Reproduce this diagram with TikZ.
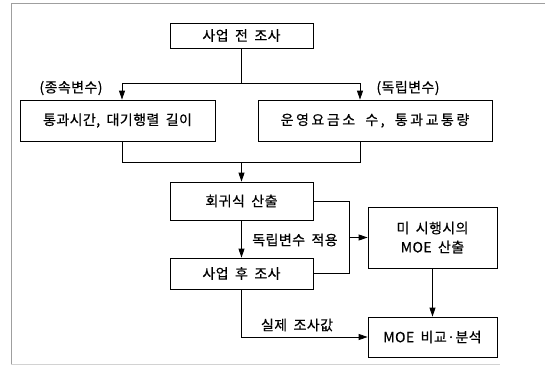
\documentclass[tikz,border=0pt]{standalone}
\usepackage{fontspec}
\newfontfamily\kr[LetterSpace=3,WordSpace=1.8,FakeBold=0.5]{Noto Sans CJK KR}
\newfontfamily\krw[LetterSpace=18,WordSpace=1.8,FakeBold=0.5]{Noto Sans CJK KR}
\usetikzlibrary{arrows.meta}
\begin{document}
\begin{tikzpicture}[x=1pt,y=-1pt,
  box/.style={draw, line width=0.8pt, inner sep=0pt, align=center,
    font=\kr\fontsize{14}{19}\selectfont},
  lbl/.style={inner sep=0pt, font=\kr\fontsize{14}{16}\selectfont},
  arr/.style={-{Triangle[length=9pt,width=6pt]}},
  ln/.style={line width=0.8pt}]
\useasboundingbox (0,0) rectangle (545,370);
% frame
\draw[gray!75, line width=0.8pt] (545,3) -- (11,3) -- (11,364);
\draw[gray!35, line width=0.8pt] (11,364) -- (500,364);
% boxes
\node[box, minimum width=143pt, minimum height=25pt] (A) at (241.5,35.5) {사업 전 조사};
\node[box, minimum width=195pt, minimum height=41pt] (L) at (117.5,120.5) {통과시간, 대기행렬 길이};
\node[box, minimum width=234pt, minimum height=41pt, font=\krw\fontsize{14}{19}\selectfont] (R) at (375,120.5) {운영요금소 수, 통과교통량};
\node[box, minimum width=143pt, minimum height=38pt] (B) at (241.5,201) {회귀식 산출};
\node[box, minimum width=143pt, minimum height=31pt] (C) at (241.5,273.5) {사업 후 조사};
\node[box, minimum width=129pt, minimum height=61pt] (D) at (432.5,237.5) {미 시행시의\\MOE 산출};
\node[box, minimum width=129pt, minimum height=40pt] (E) at (432.5,337) {MOE 비교·분석};
% labels
\node[lbl] (l1) at (71,88) {(종속변수)};
\node[lbl] (l2) at (408,88) {(독립변수)};
\node[lbl] (l3) at (295,240) {독립변수 적용};
\node[lbl] (l4) at (297,325) {실제 조사값};
% connectors
\coordinate (s1) at (241.5,83);
\coordinate (lx) at (122,0);
\coordinate (rx) at (360,0);
\coordinate (m1) at (241.5,162);
\coordinate (cx) at (349,0);
\draw[ln] (A.south) -- (s1);
\draw[ln,arr] (s1) -| (L.north -| lx);
\draw[ln,arr] (s1) -| (R.north -| rx);
\draw[ln] (L.south -| lx) |- (m1);
\draw[ln] (R.south -| rx) |- (m1);
\draw[ln,arr] (m1) -- (B.north);
\draw[ln,arr] (B.south) -- (C.north);
\draw[ln] (B.east) -| (cx |- C.east) -- (C.east);
\draw[ln,arr] (cx |- D.west) -- (D.west);
\draw[ln,arr] (D.south) -- (E.north);
\draw[ln,arr] (C.south) |- (E.west);
\end{tikzpicture}
\end{document}
